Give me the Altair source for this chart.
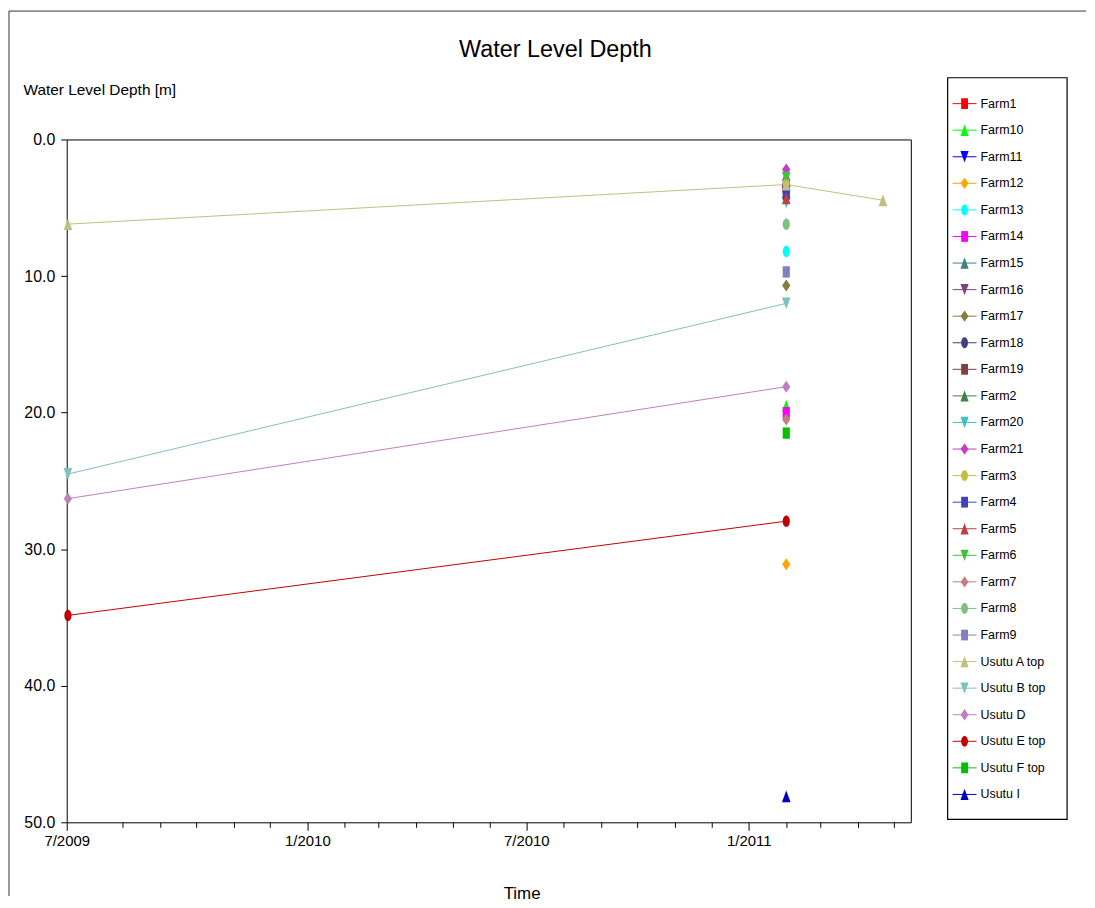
import altair as alt
import pandas as pd

# ---------------- data ----------------
series_names = ["Farm1", "Farm10", "Farm11", "Farm12", "Farm13", "Farm14", "Farm15",
                "Farm16", "Farm17", "Farm18", "Farm19", "Farm2", "Farm20", "Farm21",
                "Farm3", "Farm4", "Farm5", "Farm6", "Farm7", "Farm8", "Farm9",
                "Usutu A top", "Usutu B top", "Usutu D", "Usutu E top", "Usutu F top", "Usutu I"]
series_colors = ["#ff0000", "#00ff00", "#0000ff", "#ffa500", "#00ffff", "#ff00ff", "#408080",
                 "#804080", "#808040", "#404080", "#804040", "#408040", "#40c0c0", "#c040c0",
                 "#c0c040", "#4040c0", "#c04040", "#40c040", "#c08080", "#80c080", "#8080c0",
                 "#c0c080", "#80c0c0", "#c080c0", "#c00000", "#00c000", "#0000c0"]
SQ = "M-0.6,-0.95H0.6V0.95H-0.6Z"
TU = "M0,-1L0.72,1H-0.72Z"
TD = "M0,1L0.72,-1H-0.72Z"
DI = "M0,-1L0.7,0L0,1L-0.7,0Z"
CI = "M0.6,0A0.6,0.95 0 1,1 -0.6,0A0.6,0.95 0 1,1 0.6,0Z"
series_shapes = [SQ, TU, TD, DI, CI, SQ, TU, TD, DI, CI, SQ, TU, TD, DI, CI,
                 SQ, TU, TD, DI, CI, SQ, TU, TD, DI, CI, SQ, TU]

obs_series = ["Farm1", "Farm10", "Farm11", "Farm12", "Farm13", "Farm14", "Farm15",
              "Farm16", "Farm17", "Farm18", "Farm19", "Farm2", "Farm20", "Farm21",
              "Farm3", "Farm4", "Farm5", "Farm6", "Farm7", "Farm8", "Farm9",
              "Usutu A top", "Usutu A top", "Usutu A top",
              "Usutu B top", "Usutu B top",
              "Usutu D", "Usutu D",
              "Usutu E top", "Usutu E top",
              "Usutu F top", "Usutu I"]
obs_date = ["2011-02-01"] * 21 + [
    "2009-06-17", "2011-02-01", "2011-04-22",
    "2009-06-17", "2011-02-01",
    "2009-06-17", "2011-02-01",
    "2009-06-17", "2011-02-01",
    "2011-02-01", "2011-02-01"]
obs_depth = [3.6, 19.5, 3.8, 31.1, 8.2, 20.0, 2.6,
             4.1, 10.7, 3.7, 3.4, 3.9, 4.6, 2.2,
             3.2, 4.0, 4.3, 2.8, 20.5, 6.2, 9.7,
             6.2, 3.3, 4.45,
             24.5, 12.0,
             26.3, 18.1,
             34.85, 27.95,
             21.5, 48.1]

chart_title = "Water Level Depth"
y_title = "Water Level Depth [m]"
x_title = "Time"
y_ticks = [0, 10, 20, 30, 40, 50]
x_domain_start = (2009, 6, 16)
x_domain_end = (2011, 5, 15)

# ---------------- build ----------------
FONT = "Liberation Sans, Arial, sans-serif"

obs_df = pd.DataFrame({"series": obs_series,
                       "date": [d + "T00:00:00" for d in obs_date],
                       "depth": obs_depth})
legend_df = pd.DataFrame({"series": series_names})
one_df = pd.DataFrame({"t": [chart_title]})

start = alt.DateTime(year=x_domain_start[0], month=x_domain_start[1], date=x_domain_start[2])
end = alt.DateTime(year=x_domain_end[0], month=x_domain_end[1], date=x_domain_end[2])
x_values = [start]
y, m = 2009, 8
while (y, m) <= (2011, 5):
    x_values.append(alt.DateTime(year=y, month=m, date=1))
    m += 1
    if m > 12:
        m = 1
        y += 1

major_test = "date(datum.value) != 1 || month(datum.value) == 0 || month(datum.value) == 6"
label_expr = ("date(datum.value) != 1 ? '7/2009' : "
              "((month(datum.value) == 0 || month(datum.value) == 6) ? "
              "timeFormat(datum.value, '%-m/%Y') : '')")

color_scale = alt.Scale(domain=series_names, range=series_colors)
shape_scale = alt.Scale(domain=series_names, range=series_shapes)

x_enc = alt.X("date:T",
              scale=alt.Scale(domain=[start, end]),
              axis=alt.Axis(values=x_values, labelExpr=label_expr,
                            tickSize={"condition": {"test": major_test, "value": 8}, "value": 5},
                            tickColor="black", tickWidth=1,
                            labelFontSize=15, labelColor="black", labelPadding=3,
                            labelOverlap=False, labelFlush=False,
                            title=x_title, titleFontSize=17, titleFontWeight="normal",
                            titleColor="black", titleX=457, titleY=72, titleBaseline="middle",
                            domain=False, grid=False))
y_enc = alt.Y("depth:Q",
              scale=alt.Scale(domain=[0, 50], reverse=True, nice=False, zero=False),
              axis=alt.Axis(values=y_ticks, format=".1f", tickSize=6, tickColor="black",
                            labelFontSize=16, labelColor="black", labelPadding=6,
                            title=y_title, titleAngle=0, titleAlign="left",
                            titleBaseline="middle", titleX=-44, titleY=-50,
                            titleFontSize=15.5, titleFontWeight="normal", titleColor="black",
                            domain=False, grid=False))
color_enc = alt.Color("series:N", scale=color_scale, legend=None)
shape_enc = alt.Shape("series:N", scale=shape_scale, legend=None)

base = alt.Chart(obs_df)
lines = base.mark_line(strokeWidth=1).encode(x=x_enc, y=y_enc, color=color_enc)
points = base.mark_point(filled=True, size=144, opacity=1, strokeWidth=0).encode(
    x=x_enc, y=y_enc, color=color_enc, shape=shape_enc)
data_layer = alt.layer(lines, points)

frame_top = alt.Chart(one_df).mark_rule(color="#333333", strokeWidth=1).encode(
    x=alt.value(-58), x2=alt.value(1024), y=alt.value(-129))
frame_left = alt.Chart(one_df).mark_rule(color="#333333", strokeWidth=1).encode(
    x=alt.value(-58), y=alt.value(-129), y2=alt.value(760))
title = alt.Chart(one_df).mark_text(fontSize=23.5, color="black", baseline="middle",
                                    align="center").encode(
    x=alt.value(491), y=alt.value(-90), text="t:N")

leg_y = alt.Y("series:N",
              scale=alt.Scale(type="point", domain=series_names, range=[-36, 658], padding=0),
              axis=None)
leg_box = alt.Chart(one_df).mark_rect(fill="white", stroke="black", strokeWidth=1.2).encode(
    x=alt.value(885), x2=alt.value(1005), y=alt.value(-62), y2=alt.value(683))
leg_lines = alt.Chart(legend_df).mark_rule(strokeWidth=1).encode(
    x=alt.value(890), x2=alt.value(914), y=leg_y, color=color_enc)
leg_pts = alt.Chart(legend_df).mark_point(filled=True, size=130, opacity=1, strokeWidth=0).encode(
    x=alt.value(902), y=leg_y, color=color_enc, shape=shape_enc)
leg_txt = alt.Chart(legend_df).mark_text(align="left", baseline="middle", fontSize=12.5,
                                         color="black").encode(
    x=alt.value(918), y=leg_y, text="series:N")
legend_layer = alt.layer(leg_lines, leg_pts, leg_txt)

chart = alt.layer(frame_top, frame_left, leg_box, data_layer, legend_layer,
                  title).resolve_scale(y="independent").properties(
    width=848, height=686, padding=0
).configure(font=FONT).configure_view(stroke="black", strokeWidth=1)

chart.save("out.html", embed_options={"renderer": "svg", "actions": False})
